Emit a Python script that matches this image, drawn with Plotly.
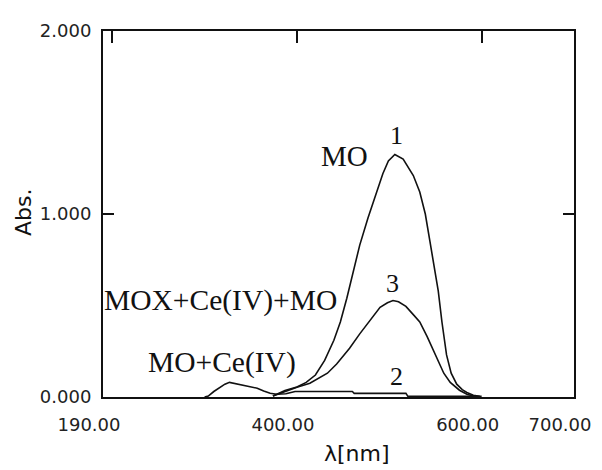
import plotly.graph_objects as go

# ---- data ----
wl_mo = [374, 387, 400, 410, 420, 430, 440, 447, 454, 460, 468, 477, 485, 493, 499, 506,
         515, 526, 533, 539, 544, 549, 553, 557, 562, 567, 573, 579, 584, 591, 598]
abs_mo = [0.005, 0.035, 0.055, 0.08, 0.12, 0.20, 0.31, 0.41, 0.54, 0.66, 0.83, 0.98, 1.10, 1.22, 1.29, 1.325,
          1.30, 1.21, 1.12, 1.00, 0.85, 0.71, 0.58, 0.41, 0.23, 0.13, 0.07, 0.04, 0.025, 0.01, 0.004]

wl_moce = [300, 304, 310, 317, 322, 327, 334, 342, 350, 357, 364, 371, 378, 388, 398,
           460, 462, 518, 520, 600]
abs_moce = [0.0, 0.005, 0.03, 0.053, 0.07, 0.08, 0.073, 0.064, 0.056, 0.048, 0.033, 0.02, 0.015, 0.018, 0.03,
            0.03, 0.02, 0.02, 0.005, 0.004]

wl_mox = [374, 387, 400, 414, 425, 433, 443, 450, 457, 468, 479, 490, 498, 504, 510, 518,
          526, 533, 541, 547, 553, 559, 566, 576, 584, 592]
abs_mox = [0.005, 0.03, 0.053, 0.075, 0.105, 0.13, 0.18, 0.22, 0.266, 0.345, 0.42, 0.49, 0.515, 0.527, 0.52, 0.495,
           0.45, 0.41, 0.33, 0.26, 0.19, 0.13, 0.08, 0.037, 0.015, 0.004]

x_tickvals = [190, 400, 600, 700]
x_ticktext = ["190.00", "400.00", "600.00", "700.00"]
x_top_ticks = [200, 400, 600]
y_tickvals = [0, 1, 2]
y_ticktext = ["0.000", "1.000", "2.000"]

labels_text = ["MO", "1", "MOX+Ce(IV)+MO", "3", "MO+Ce(IV)", "2"]
labels_x = [451, 508, 317, 504, 319, 508]
labels_y = [1.319, 1.431, 0.527, 0.622, 0.186, 0.112]
labels_size = [29, 26, 29.5, 26, 29.5, 26]

LINE = dict(color="#111111", width=1.6)

fig = go.Figure()
fig.add_trace(go.Scatter(x=wl_mo, y=abs_mo, mode="lines", line=LINE, name="MO"))
fig.add_trace(go.Scatter(x=wl_mox, y=abs_mox, mode="lines", line=LINE, name="MOX+Ce(IV)+MO"))
fig.add_trace(go.Scatter(x=wl_moce, y=abs_moce, mode="lines", line=LINE, name="MO+Ce(IV)",
                         xaxis="x2"))

for t, x, y, s in zip(labels_text, labels_x, labels_y, labels_size):
    fig.add_annotation(x=x, y=y, text=t, showarrow=False, xref="x", yref="y",
                       xanchor="center", yanchor="middle",
                       font=dict(family="Liberation Serif, Times New Roman, serif", size=s, color="#111111"))

# axis titles
fig.add_annotation(text="Abs.", x=-0.170, y=0.505, xref="paper", yref="paper", showarrow=False,
                   xanchor="center", yanchor="middle",
                   textangle=-90, font=dict(family="DejaVu Sans, sans-serif", size=22, color="#111111"))
fig.add_annotation(text="λ[nm]", x=0.539, y=-0.155, xref="paper", yref="paper", showarrow=False,
                   xanchor="center", yanchor="middle",
                   font=dict(family="DejaVu Sans, sans-serif", size=22, color="#111111"))

fig.update_layout(
    width=602, height=470,
    margin=dict(l=95, r=36, t=13, b=81),
    paper_bgcolor="white", plot_bgcolor="white",
    showlegend=False,
    xaxis=dict(range=[190, 700], tickvals=x_tickvals, ticktext=x_ticktext,
               showline=True, linecolor="#111111", linewidth=2, mirror=True,
               ticks="", showgrid=False, zeroline=False,
               ticklabelshift=-14, ticklabelstandoff=10,
               tickfont=dict(family="DejaVu Sans, sans-serif", size=18, color="#222222")),
    xaxis2=dict(range=[190, 700], overlaying="x", side="top", tickvals=x_top_ticks,
                ticks="inside", ticklen=12, tickwidth=2, tickcolor="#111111",
                showticklabels=False, showgrid=False, zeroline=False, showline=False),
    yaxis=dict(range=[0, 2], tickvals=y_tickvals, ticktext=y_ticktext,
               showline=True, linecolor="#111111", linewidth=2, mirror="ticks",
               ticks="inside", ticklen=11, tickwidth=2, tickcolor="#111111",
               showgrid=False, zeroline=False, ticklabelstandoff=6,
               tickfont=dict(family="DejaVu Sans, sans-serif", size=18, color="#222222")),
)

fig.write_html("out.html")
